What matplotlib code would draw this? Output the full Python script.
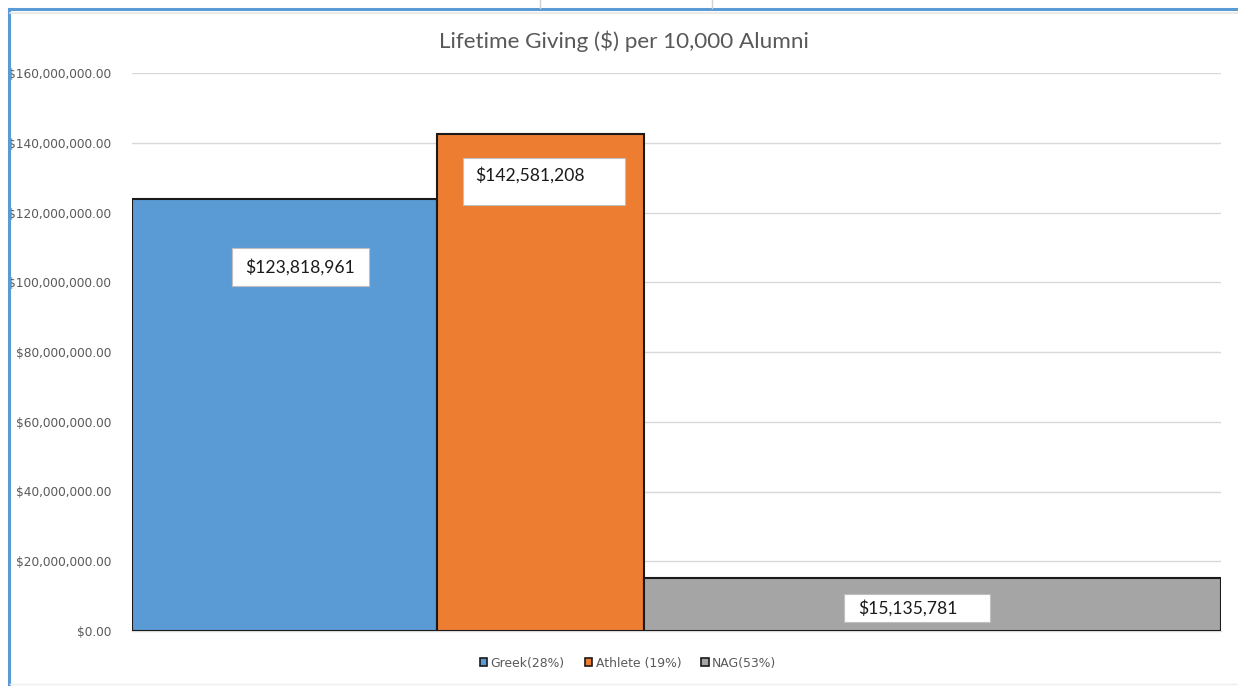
import matplotlib
matplotlib.use("Agg")
import matplotlib.pyplot as plt
from matplotlib.lines import Line2D
from matplotlib.patches import Rectangle
from matplotlib.ticker import FuncFormatter

# Data
groups = ["Greek(28%)", "Athlete (19%)", "NAG(53%)"]
shares = [28, 19, 53]                       # share of alumni, sets bar width
giving = [123818961, 142581208, 15135781]   # lifetime giving per 10,000 alumni
value_labels = ["$123,818,961", "$142,581,208", "$15,135,781"]
colors = ["#5b9bd5", "#ed7d31", "#a5a5a5"]

W, H = 1238, 686
fig = plt.figure(figsize=(W / 100, H / 100), dpi=100)
fig.patch.set_facecolor("white")

def fx(px):
    return px / W

def fy(py):
    return 1 - py / H

ax = fig.add_axes([fx(132), fy(631), fx(1221) - fx(132), fy(73) - fy(631)])

lefts = [sum(shares[:i]) for i in range(len(shares))]
bars = ax.bar(lefts, giving, width=shares, align="edge", color=colors,
              edgecolor="#1a1a1a", linewidth=1.5, zorder=3)

ax.set_xlim(0, 100)
ax.set_ylim(0, 160e6)
ax.set_yticks([i * 20e6 for i in range(9)])
ax.yaxis.set_major_formatter(FuncFormatter(lambda v, p: f"${v:,.2f}"))
ax.tick_params(axis="y", length=0, pad=15, labelsize=8.7, labelcolor="#595959")
ax.set_xticks([])
for lab in ax.get_yticklabels():
    lab.set_fontfamily("DejaVu Sans")
ax.grid(axis="y", color="#d9d9d9", linewidth=1.0, zorder=0)
for s in ["left", "right", "top"]:
    ax.spines[s].set_visible(False)
ax.spines["bottom"].set_color("#d9d9d9")
ax.spines["bottom"].set_linewidth(1.0)

fig.text(fx(624), fy(41), "Lifetime Giving ($) per 10,000 Alumni", ha="center",
         va="center", fontsize=16.2, color="#595959", family="Lato")

# Value label boxes: (box center offset from bar top center, box size, text inset) in pixels
box_specs = [
    ((16, -68), (137, 38), 13, 0),
    ((4, -47.5), (162, 47), 12, 6.5),
    ((-15, -30), (146, 28), 14, 0),
]
fig.canvas.draw()
for i, (bar, txt) in enumerate(zip(bars, value_labels)):
    (dx, dy), (bw, bh), inset, tdy = box_specs[i]
    cx, top = ax.transData.transform((bar.get_x() + bar.get_width() / 2, bar.get_height()))
    bx = cx + dx - bw / 2
    by = top + dy - bh / 2
    fig.add_artist(Rectangle((bx, by), bw, bh, transform=None, facecolor="white",
                             edgecolor="#bfbfbf", linewidth=0.8, zorder=5))
    fig.text(fx(bx + inset), (by + bh / 2 + tdy) / H, txt, ha="left", va="center",
             fontsize=12.6, color="#1a1a1a", family="Lato", zorder=6)

handles = [Rectangle((0, 0), 1, 1, facecolor=c, edgecolor="#1a1a1a", linewidth=1.2)
           for c in colors]
leg = fig.legend(handles, groups, loc="center", bbox_to_anchor=(fx(628), fy(663)),
                 ncol=3, frameon=False, fontsize=8.9, handlelength=0.6,
                 handleheight=0.6, handletextpad=0.3, columnspacing=1.6,
                 labelcolor="#595959")

# Worksheet frame around the chart
fig.add_artist(Line2D([fx(9), fx(9)], [fy(9), 0], color="#5b9bd5", linewidth=2.2))
fig.add_artist(Line2D([fx(9), 1], [fy(9), fy(9)], color="#5b9bd5", linewidth=2.2))
fig.add_artist(Line2D([fx(10), 1], [fy(13), fy(13)], color="#e6e6e6", linewidth=1.2))
fig.add_artist(Line2D([fx(10), 1], [fy(684), fy(684)], color="#eeeeee", linewidth=1.0))
for x in (540, 712):
    fig.add_artist(Line2D([fx(x), fx(x)], [1, fy(8)], color="#d0d0d0", linewidth=1.0))

fig.savefig("out.png", dpi=100)
